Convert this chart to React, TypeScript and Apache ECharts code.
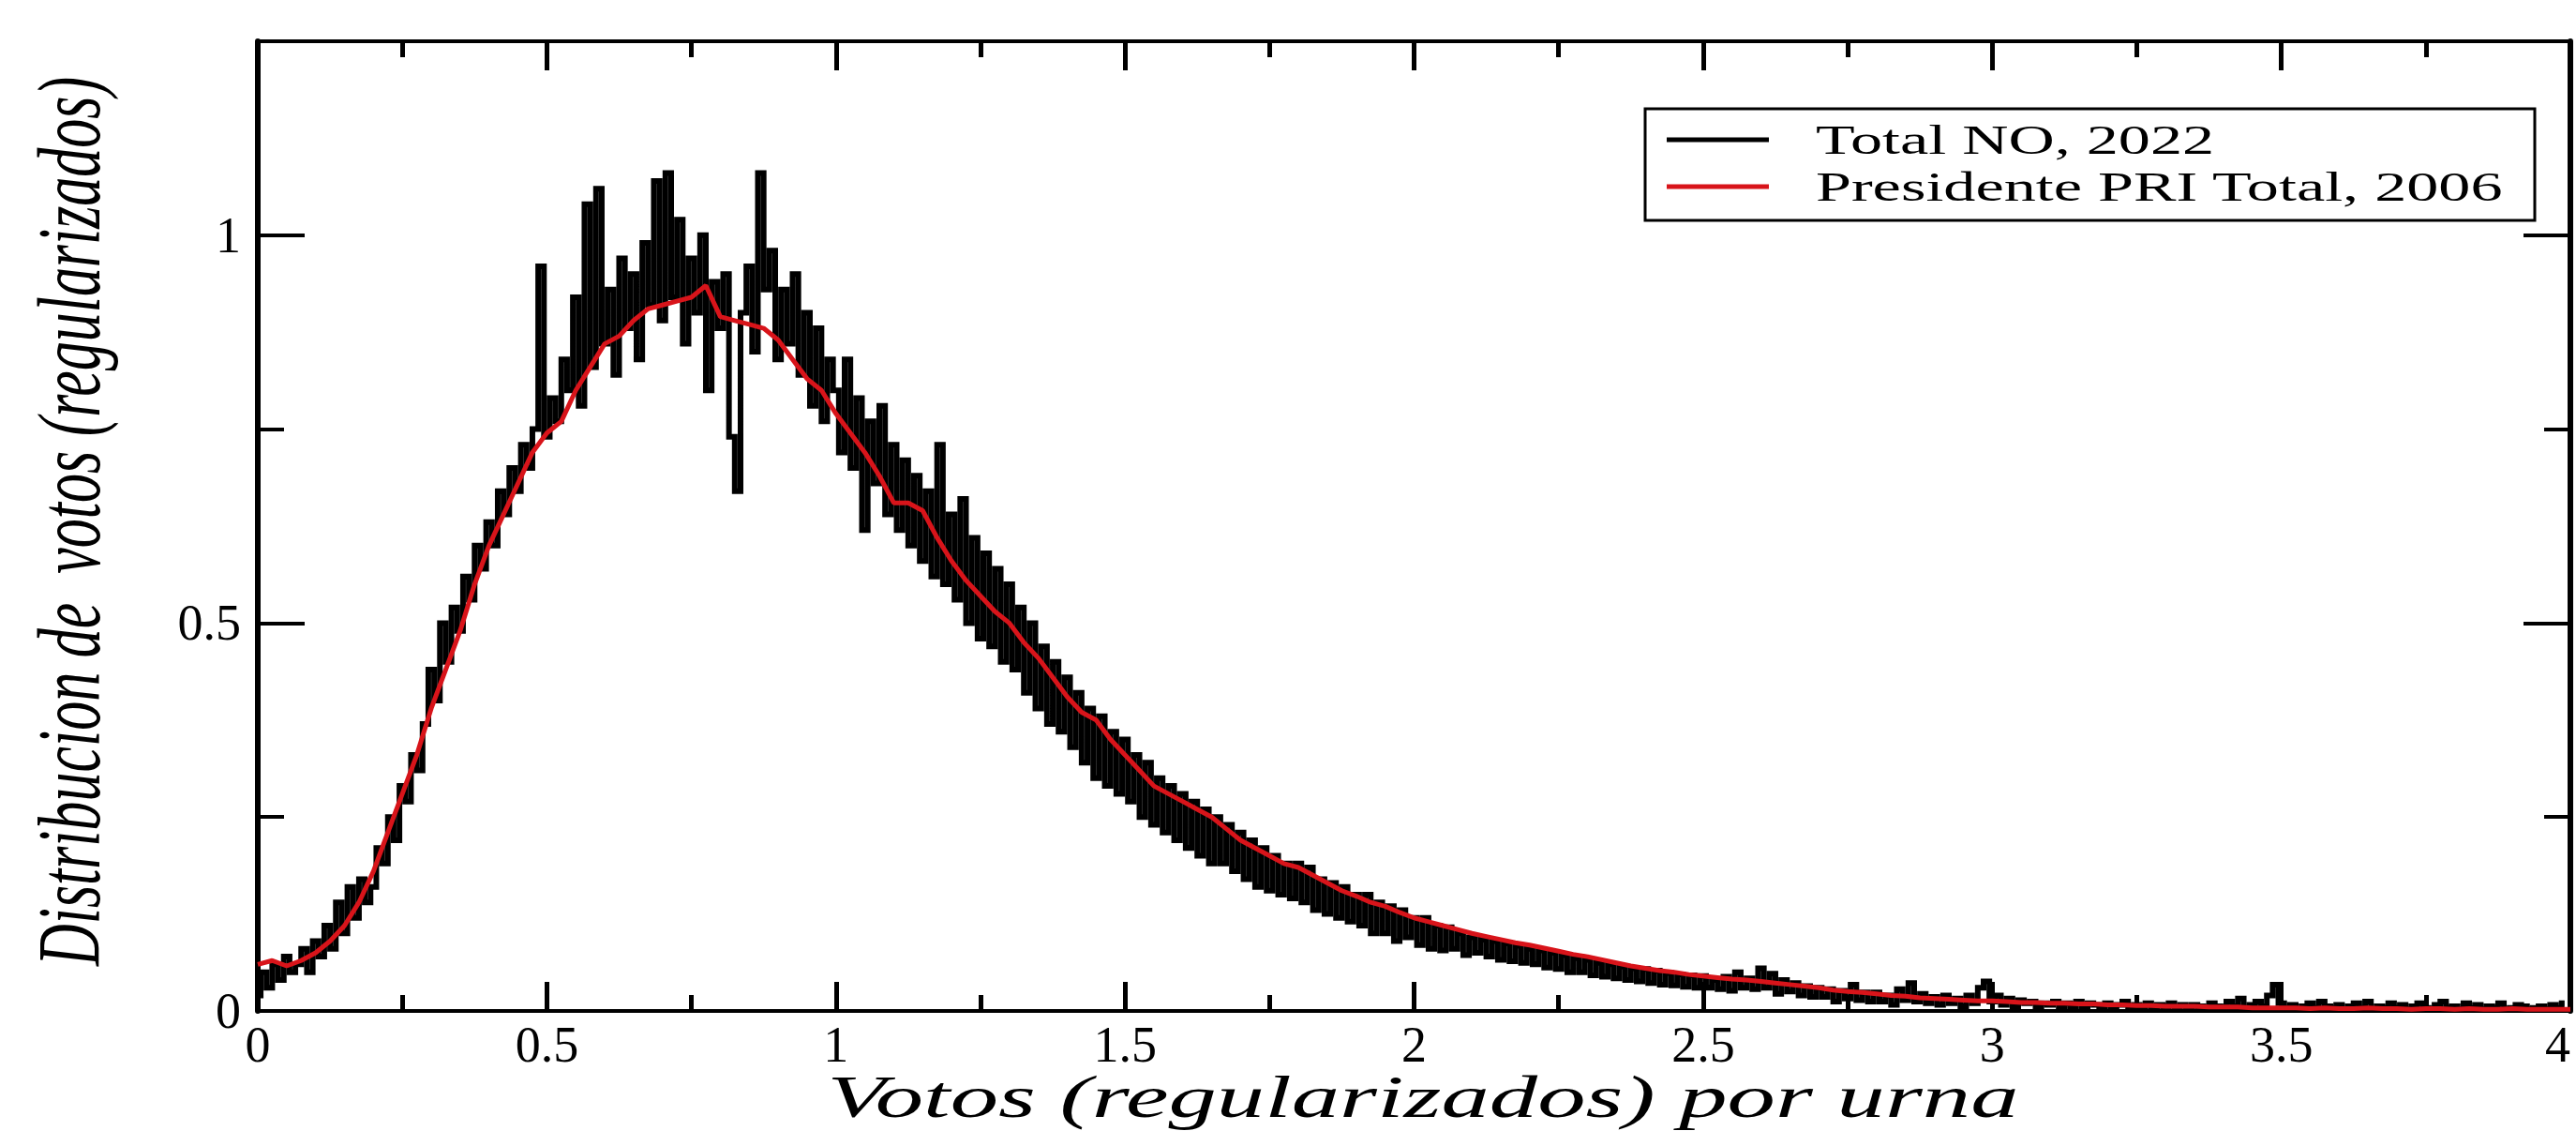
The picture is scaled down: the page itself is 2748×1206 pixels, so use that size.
import React, { useEffect, useRef } from "react";
import * as echarts from "echarts";

// ---------- data ----------
const SERIES_NAMES = ["Total NO, 2022", "Presidente PRI Total, 2006"];
const X_TITLE = "Votos (regularizados) por urna";
const Y_TITLE = "Distribucion de  votos (regularizados)";

const X_MIN = 0;
const X_MAX = 4;
const X_INTERVAL = 0.5;
const Y_MIN = 0;
const Y_MAX = 1.25;
const Y_INTERVAL = 0.5;
const Y_MINOR_INTERVAL = 0.25;

// Total NO, 2022 : histogram bins of width 0.01 starting at 0
const BLACK_BIN = 0.01;
const BLACK_Y = [
  0.02, 0.05, 0.03, 0.06, 0.04, 0.07, 0.05, 0.06, 0.08, 0.05,
  0.09, 0.07, 0.11, 0.08, 0.14, 0.10, 0.16, 0.12, 0.17, 0.14,
  0.16, 0.21, 0.19, 0.25, 0.22, 0.29, 0.27, 0.33, 0.31, 0.37,
  0.44, 0.40, 0.50, 0.45, 0.52, 0.49, 0.56, 0.53, 0.60, 0.57,
  0.63, 0.60, 0.67, 0.64, 0.70, 0.67, 0.73, 0.70, 0.75, 0.96,
  0.74, 0.79, 0.76, 0.84, 0.80, 0.92, 0.78, 1.04, 0.83, 1.06,
  0.86, 0.93, 0.82, 0.97, 0.88, 0.95, 0.84, 0.99, 0.91, 1.07,
  0.89, 1.08, 0.92, 1.02, 0.86, 0.97, 0.90, 1.00, 0.80, 0.94,
  0.88, 0.95, 0.74, 0.67, 0.90, 0.96, 0.85, 1.08, 0.93, 0.98,
  0.84, 0.93, 0.86, 0.95, 0.82, 0.90, 0.78, 0.88, 0.76, 0.84,
  0.80, 0.72, 0.84, 0.70, 0.79, 0.62, 0.76, 0.68, 0.78, 0.64,
  0.73, 0.62, 0.71, 0.60, 0.69, 0.58, 0.67, 0.56, 0.73, 0.55,
  0.64, 0.53, 0.66, 0.50, 0.61, 0.48, 0.59, 0.47, 0.57, 0.45,
  0.55, 0.44, 0.52, 0.41, 0.50, 0.39, 0.47, 0.37, 0.45, 0.36,
  0.43, 0.34, 0.41, 0.32, 0.39, 0.30, 0.38, 0.29, 0.36, 0.28,
  0.35, 0.27, 0.33, 0.25, 0.32, 0.24, 0.30, 0.23, 0.29, 0.22,
  0.28, 0.21, 0.27, 0.20, 0.26, 0.19, 0.25, 0.19, 0.24, 0.18,
  0.23, 0.17, 0.22, 0.16, 0.21, 0.155, 0.20, 0.15, 0.19, 0.145,
  0.19, 0.14, 0.185, 0.13, 0.17, 0.125, 0.165, 0.12, 0.16, 0.115,
  0.15, 0.11, 0.15, 0.10, 0.14, 0.10, 0.135, 0.09, 0.13, 0.095,
  0.12, 0.085, 0.12, 0.08, 0.11, 0.078, 0.108, 0.08, 0.10, 0.072,
  0.095, 0.075, 0.092, 0.07, 0.09, 0.066, 0.087, 0.064, 0.084, 0.062,
  0.08, 0.06, 0.078, 0.056, 0.075, 0.054, 0.072, 0.05, 0.068, 0.05,
  0.066, 0.046, 0.062, 0.044, 0.06, 0.042, 0.057, 0.04, 0.055, 0.038,
  0.054, 0.036, 0.052, 0.034, 0.049, 0.033, 0.047, 0.031, 0.046, 0.03,
  0.045, 0.03, 0.04, 0.028, 0.044, 0.026, 0.05, 0.03, 0.042, 0.028,
  0.055, 0.03, 0.048, 0.022, 0.04, 0.025, 0.036, 0.02, 0.032, 0.018,
  0.03, 0.018, 0.028, 0.012, 0.026, 0.016, 0.034, 0.014, 0.024, 0.012,
  0.024, 0.012, 0.02, 0.008, 0.028, 0.014, 0.036, 0.012, 0.022, 0.01,
  0.018, 0.008, 0.02, 0.01, 0.016, 0.006, 0.02, 0.01, 0.03, 0.038,
  0.012, 0.02, 0.008, 0.016, 0.006, 0.014, 0.01, 0.012, 0.006, 0.01,
  0.008, 0.012, 0.004, 0.01, 0.006, 0.012, 0.004, 0.01, 0.008, 0.006,
  0.01, 0.004, 0.008, 0.012, 0.004, 0.008, 0.006, 0.01, 0.004, 0.008,
  0.006, 0.01, 0.004, 0.008, 0.002, 0.008, 0.006, 0.004, 0.01, 0.006,
  0.004, 0.012, 0.006, 0.016, 0.004, 0.008, 0.012, 0.006, 0.02, 0.034,
  0.01, 0.004, 0.008, 0.002, 0.006, 0.01, 0.004, 0.012, 0.006, 0.004,
  0.008, 0.002, 0.006, 0.01, 0.004, 0.012, 0.002, 0.006, 0.004, 0.01,
  0.004, 0.008, 0.002, 0.006, 0.01, 0.004, 0.002, 0.008, 0.012, 0.004,
  0.006, 0.002, 0.01, 0.004, 0.008, 0.002, 0.006, 0.004, 0.01, 0.002,
  0.004, 0.008, 0.006, 0.002, 0.004, 0.006, 0.002, 0.008, 0.004, 0.01,
];

// Presidente PRI Total, 2006 : sampled every 0.025 from 0 to 4
const RED_STEP = 0.025;
const RED_Y = [
  0.06, 0.065, 0.058, 0.065, 0.075, 0.09, 0.11, 0.14, 0.18, 0.23,
  0.28, 0.33, 0.39, 0.44, 0.49, 0.55, 0.6, 0.64, 0.68, 0.72,
  0.745, 0.76, 0.8, 0.83, 0.86, 0.87, 0.89, 0.905, 0.91, 0.915,
  0.92, 0.935, 0.895, 0.89, 0.885, 0.88, 0.865, 0.84, 0.815, 0.8,
  0.77, 0.745, 0.72, 0.69, 0.655, 0.655, 0.645, 0.61, 0.58, 0.555,
  0.535, 0.515, 0.5, 0.475, 0.455, 0.43, 0.405, 0.385, 0.375, 0.35,
  0.33, 0.31, 0.29, 0.28, 0.27, 0.26, 0.25, 0.235, 0.22, 0.21,
  0.2, 0.19, 0.185, 0.175, 0.165, 0.155, 0.148, 0.14, 0.135, 0.127,
  0.12, 0.115, 0.11, 0.105, 0.1, 0.096, 0.092, 0.088, 0.085, 0.081,
  0.077, 0.073, 0.07, 0.066, 0.062, 0.058, 0.055, 0.052, 0.05, 0.047,
  0.045, 0.043, 0.041, 0.04, 0.038, 0.036, 0.034, 0.032, 0.03, 0.027,
  0.025, 0.024, 0.022, 0.02, 0.019, 0.017, 0.016, 0.015, 0.014, 0.013,
  0.013, 0.012, 0.011, 0.011, 0.01, 0.01, 0.009, 0.009, 0.008, 0.008,
  0.007, 0.007, 0.006, 0.006, 0.006, 0.005, 0.005, 0.005, 0.004, 0.004,
  0.004, 0.004, 0.003, 0.004, 0.003, 0.003, 0.004, 0.003, 0.003, 0.002,
  0.003, 0.003, 0.002, 0.003, 0.002, 0.002, 0.003, 0.002, 0.002, 0.002,
  0.002,
];

const BLACK = "#000000";
const RED = "#d8141a";
const SERIF = '"Liberation Serif", "Times New Roman", serif';

export default function App() {
  const ref = useRef<HTMLDivElement>(null);

  useEffect(() => {
    document.body.style.margin = "0";
    if (!ref.current) return;
    const chart = echarts.init(ref.current, undefined, { renderer: "svg" });

    const blackPoints = BLACK_Y.map((y, i) => [+(i * BLACK_BIN).toFixed(3), y]);
    const redPoints = RED_Y.map((y, i) => [+(i * RED_STEP).toFixed(3), y]);

    const labelStyle = {
      fontFamily: SERIF,
      fontSize: 54,
      color: "#000",
    };

    const xAxisBase = (position: "bottom" | "top", showLabel: boolean) => ({
      type: "value" as const,
      position,
      min: X_MIN,
      max: X_MAX,
      interval: X_INTERVAL,
      axisLine: { show: true, onZero: false, lineStyle: { color: BLACK, width: 4 } },
      axisTick: { show: true, inside: true, length: 31, lineStyle: { color: BLACK, width: 5 } },
      minorTick: { show: true, splitNumber: 2, length: 17, lineStyle: { color: BLACK, width: 5 } },
      axisLabel: {
        show: showLabel,
        margin: 9,
        ...labelStyle,
        showMaxLabel: true,
        showMinLabel: true,
        alignMaxLabel: "right",
      },
      splitLine: { show: false },
      minorSplitLine: { show: false },
    });

    const yAxisBase = (
      position: "left" | "right",
      interval: number,
      tickLen: number,
      showLine: boolean,
      showLabel: boolean
    ) => ({
      type: "value" as const,
      position,
      min: Y_MIN,
      max: Y_MAX,
      interval,
      axisLine: { show: showLine, onZero: false, lineStyle: { color: BLACK, width: 6 } },
      axisTick: { show: true, inside: true, length: tickLen, lineStyle: { color: BLACK, width: 4 } },
      axisLabel: { show: showLabel, margin: 18, ...labelStyle, showMaxLabel: false },
      splitLine: { show: false },
    });

    chart.setOption({
      animation: false,
      backgroundColor: "#ffffff",
      grid: {
        left: 275,
        right: 6,
        top: 44,
        bottom: 128,
        containLabel: false,
        outerBoundsMode: "none",
      },
      xAxis: [xAxisBase("bottom", true), xAxisBase("top", false)],
      yAxis: [
        yAxisBase("left", Y_INTERVAL, 50, true, true),
        yAxisBase("right", Y_INTERVAL, 50, true, false),
        yAxisBase("left", Y_MINOR_INTERVAL, 28, false, false),
        yAxisBase("right", Y_MINOR_INTERVAL, 28, false, false),
      ],
      series: [
        {
          name: SERIES_NAMES[0],
          type: "line",
          xAxisIndex: 0,
          yAxisIndex: 0,
          data: blackPoints,
          step: "middle",
          showSymbol: false,
          symbol: "none",
          lineStyle: { color: BLACK, width: 6, join: "miter", cap: "butt" },
          z: 2,
        },
        {
          name: SERIES_NAMES[1],
          type: "line",
          xAxisIndex: 0,
          yAxisIndex: 0,
          data: redPoints,
          showSymbol: false,
          symbol: "none",
          lineStyle: { color: RED, width: 5 },
          z: 3,
        },
      ],
      graphic: {
        elements: [
          {
            type: "rect",
            z: 100,
            shape: { x: 1755, y: 116, width: 949, height: 119 },
            style: { fill: "#ffffff", stroke: BLACK, lineWidth: 3 },
          },
          {
            type: "line",
            z: 101,
            shape: { x1: 1778, y1: 149, x2: 1887, y2: 149 },
            style: { stroke: BLACK, lineWidth: 5 },
          },
          {
            type: "line",
            z: 101,
            shape: { x1: 1778, y1: 199, x2: 1887, y2: 199 },
            style: { stroke: RED, lineWidth: 5 },
          },
          {
            type: "text",
            z: 101,
            x: 1937,
            y: 149,
            scaleX: 1.55,
            style: {
              text: SERIES_NAMES[0],
              fontFamily: SERIF,
              fontSize: 44,
              fill: BLACK,
              align: "left",
              verticalAlign: "middle",
            },
          },
          {
            type: "text",
            z: 101,
            x: 1937,
            y: 199,
            scaleX: 1.55,
            style: {
              text: SERIES_NAMES[1],
              fontFamily: SERIF,
              fontSize: 44,
              fill: BLACK,
              align: "left",
              verticalAlign: "middle",
            },
          },
          {
            type: "text",
            z: 101,
            x: 1518,
            y: 1170,
            scaleX: 1.63,
            style: {
              text: X_TITLE,
              fontFamily: SERIF,
              fontStyle: "italic",
              fontSize: 63,
              fill: BLACK,
              align: "center",
              verticalAlign: "middle",
            },
          },
          {
            type: "text",
            z: 101,
            x: 73,
            y: 556,
            rotation: Math.PI / 2,
            scaleY: 1.55,
            style: {
              text: Y_TITLE,
              fontFamily: SERIF,
              fontStyle: "italic",
              fontSize: 62,
              fill: BLACK,
              align: "center",
              verticalAlign: "middle",
            },
          },
        ],
      },
    });

    return () => {
      chart.dispose();
    };
  }, []);

  return <div ref={ref} style={{ width: 2748, height: 1206 }} />;
}
